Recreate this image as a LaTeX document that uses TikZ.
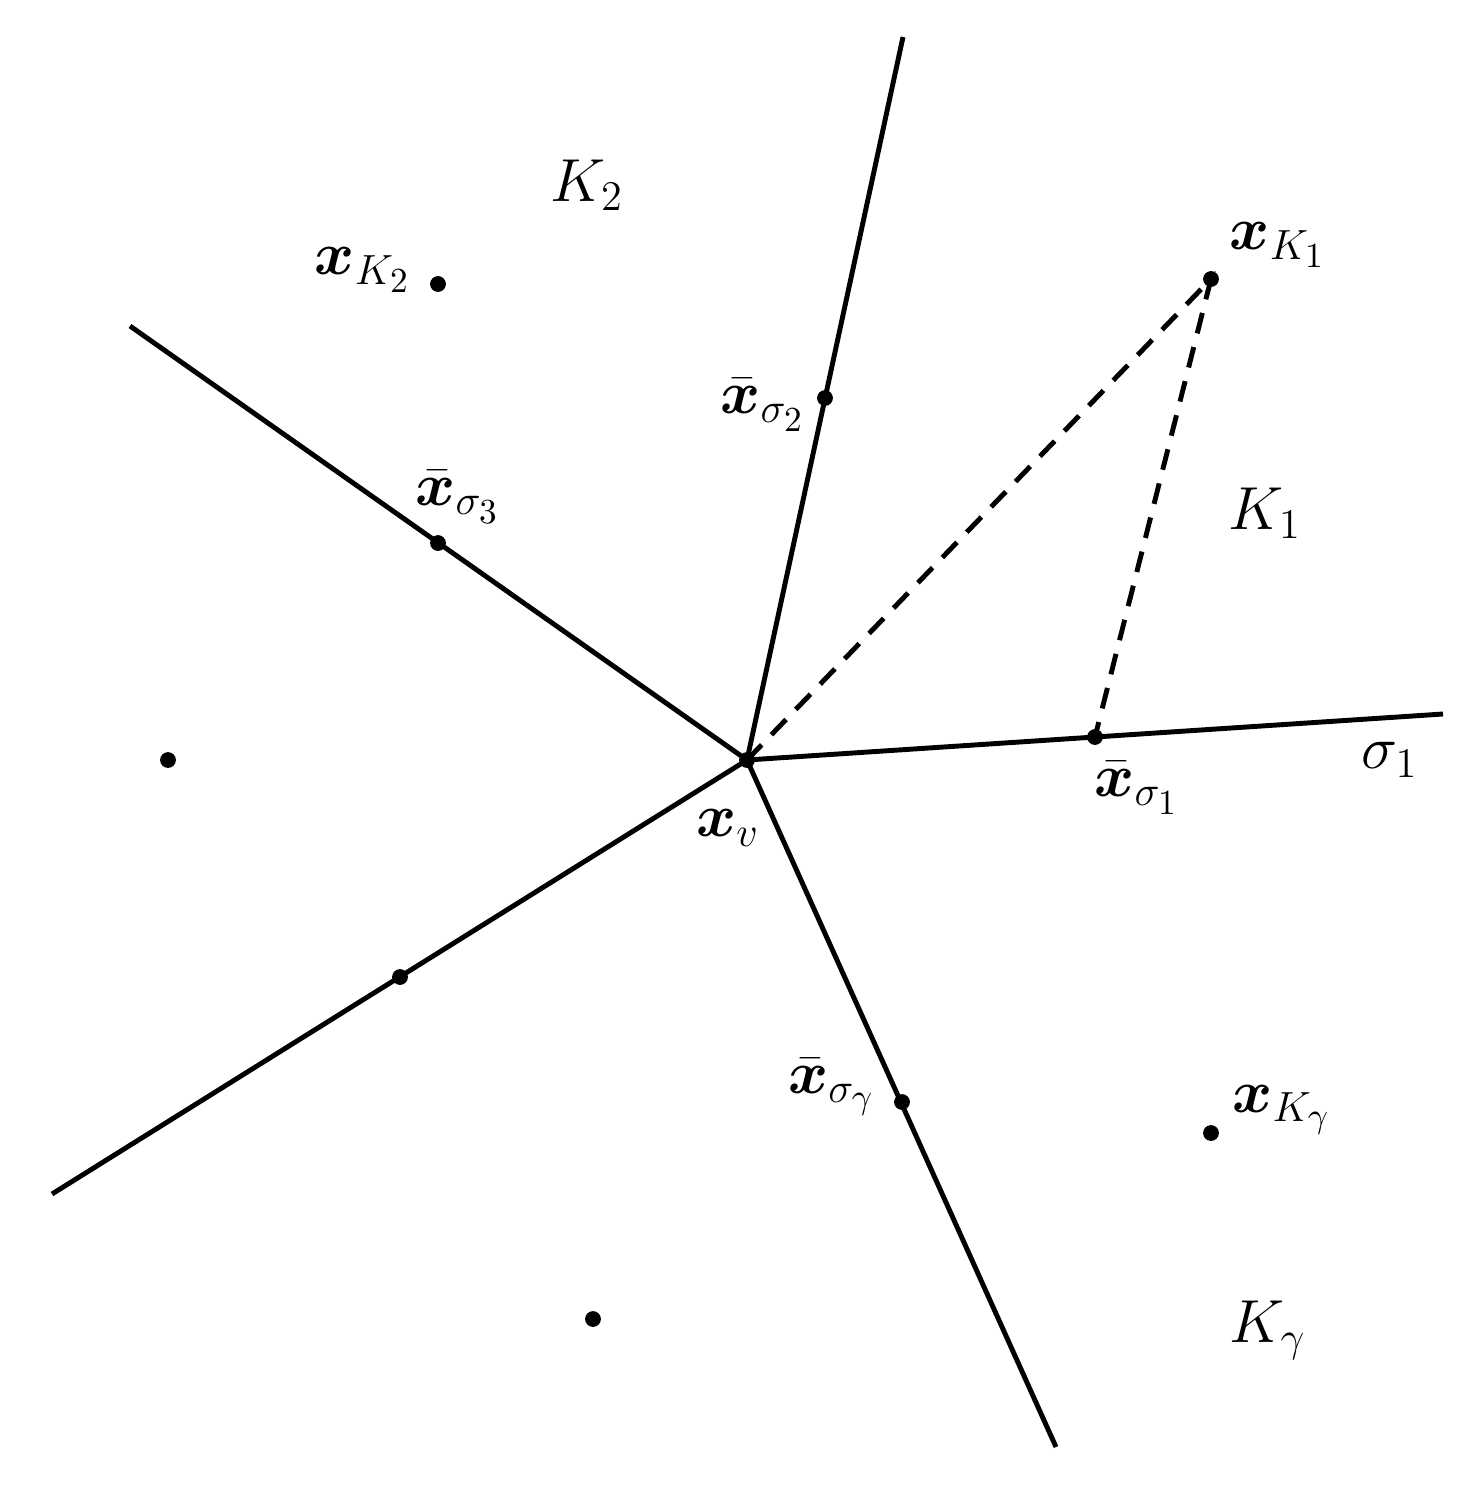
\documentclass[tikz,border=0pt]{standalone}
\usepackage{amsmath,bm}
\begin{document}
\begin{tikzpicture}[x=0.01cm,y=-0.01cm,
  edge/.style={line width=1.4pt},
  dashline/.style={line width=1.4pt,dash pattern=on 6pt off 4pt},
  pt/.style={circle,fill,inner sep=0pt,minimum size=4.5pt},
  lab/.style={font=\LARGE,inner sep=1pt}]
\useasboundingbox (0,0) rectangle (1476,1490);
\coordinate (v) at (747,760);
\coordinate (e1) at (903,37);
\coordinate (e2) at (130,326);
\coordinate (e3) at (1443,714);
\coordinate (e4) at (52,1194);
\coordinate (e5) at (1056,1447);
\foreach \e in {e1,e2,e3,e4,e5} \draw[edge] (v) -- (\e);
\node[pt] (xv) at (v) {};
\node[pt] (xK2) at (438,284) {};
\node[pt] (xs2) at (825,398) {};
\node[pt] (xK1) at (1211,279) {};
\node[pt] (xs3) at (438,543) {};
\node[pt] (xs1) at (1095,737) {};
\node[pt] (p1) at (168,760) {};
\node[pt] (p2) at (400,977) {};
\node[pt] (xsg) at (902,1102) {};
\node[pt] (xKg) at (1211,1133) {};
\node[pt] (p3) at (593,1319) {};
\draw[dashline] (xv.center) -- (xK1.center) -- (xs1.center);
\node[lab] (l1) at (587,185) {$K_2$};
\node[lab] (l2) at (363,270) {$\bm{x}_{K_2}$};
\node[lab] (l3) at (763,405) {$\bar{\bm{x}}_{\sigma_2}$};
\node[lab] (l4) at (1278,245) {$\bm{x}_{K_1}$};
\node[lab] (l5) at (458,497) {$\bar{\bm{x}}_{\sigma_3}$};
\node[lab] (l6) at (1265,513) {$K_1$};
\node[lab] (l7) at (1390,760) {$\sigma_1$};
\node[lab] (l8) at (1137,788) {$\bar{\bm{x}}_{\sigma_1}$};
\node[lab] (l9) at (728,828) {$\bm{x}_v$};
\node[lab] (l10) at (832,1087) {$\bar{\bm{x}}_{\sigma_\gamma}$};
\node[lab] (l11) at (1282,1110) {$\bm{x}_{K_\gamma}$};
\node[lab] (l12) at (1268,1330) {$K_\gamma$};
\end{tikzpicture}
\end{document}
